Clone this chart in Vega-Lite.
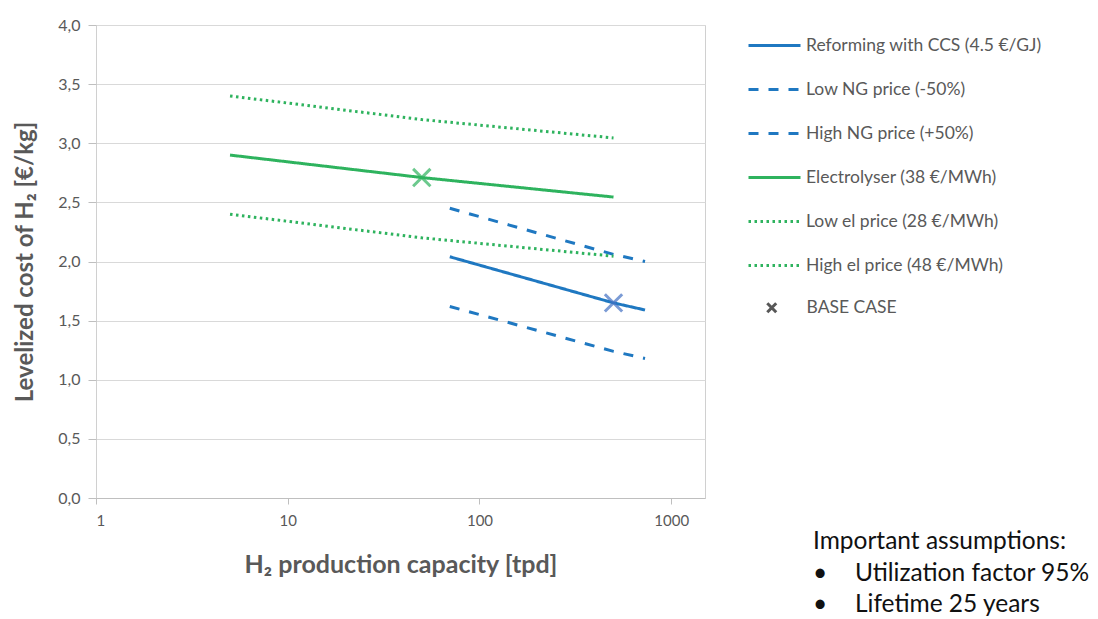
{
  "$schema": "https://vega.github.io/schema/vega-lite/v6.json",
  "autosize": "none",
  "width": 609,
  "height": 473,
  "padding": {"left": 96, "top": 25, "right": 393, "bottom": 121},
  "background": "white",
  "config": {
    "font": "Lato",
    "view": {"stroke": "#d0d0d0", "strokeWidth": 1},
    "axis": {"labelFont": "Lato", "titleFont": "Lato", "labelColor": "#595959", "titleColor": "#595959"},
    "legend": {"labelFont": "Lato", "labelColor": "#595959"}
  },
  "title": {
    "text": ["Important assumptions:", "•\u2003\u2009 Utilization factor 95%", "•\u2003\u2009 Lifetime 25 years"],
    "orient": "bottom",
    "anchor": "start",
    "frame": "group",
    "dx": 717,
    "offset": -47,
    "baseline": "top",
    "font": "Lato",
    "fontSize": 24.5,
    "fontWeight": "normal",
    "color": "#111111",
    "lineHeight": 31.5
  },
  "datasets": {
    "lines": [
      {"x": 70, "y": 2.04, "series": "Reforming with CCS (4.5 €/GJ)"},
      {"x": 500, "y": 1.65, "series": "Reforming with CCS (4.5 €/GJ)"},
      {"x": 730, "y": 1.59, "series": "Reforming with CCS (4.5 €/GJ)"},
      {"x": 70, "y": 1.62, "series": "Low NG price (-50%)"},
      {"x": 500, "y": 1.24, "series": "Low NG price (-50%)"},
      {"x": 730, "y": 1.18, "series": "Low NG price (-50%)"},
      {"x": 70, "y": 2.45, "series": "High NG price (+50%)"},
      {"x": 500, "y": 2.06, "series": "High NG price (+50%)"},
      {"x": 730, "y": 2.0, "series": "High NG price (+50%)"},
      {"x": 5, "y": 2.9, "series": "Electrolyser (38 €/MWh)"},
      {"x": 50, "y": 2.71, "series": "Electrolyser (38 €/MWh)"},
      {"x": 500, "y": 2.545, "series": "Electrolyser (38 €/MWh)"},
      {"x": 5, "y": 2.4, "series": "Low el price (28 €/MWh)"},
      {"x": 50, "y": 2.2, "series": "Low el price (28 €/MWh)"},
      {"x": 500, "y": 2.045, "series": "Low el price (28 €/MWh)"},
      {"x": 5, "y": 3.4, "series": "High el price (48 €/MWh)"},
      {"x": 50, "y": 3.2, "series": "High el price (48 €/MWh)"},
      {"x": 500, "y": 3.045, "series": "High el price (48 €/MWh)"}
    ],
    "base": [
      {"x": 50, "y": 2.71, "tech": "Electrolyser", "marker": "BASE CASE"},
      {"x": 500, "y": 1.65, "tech": "Reforming", "marker": "BASE CASE"}
    ]
  },
  "layer": [
    {
      "data": {"name": "lines"},
      "mark": {"type": "line", "strokeWidth": 3, "strokeCap": "butt"},
      "encoding": {
        "x": {
          "field": "x", "type": "quantitative",
          "scale": {"type": "log", "domain": [1, 1500], "nice": false},
          "axis": {
            "title": "H₂ production capacity [tpd]",
            "values": [1, 10, 100, 1000], "format": "d",
            "grid": false, "domain": true, "domainColor": "#bfbfbf",
            "ticks": true, "tickSize": 6, "tickColor": "#bfbfbf",
            "labelFontSize": 15, "labelPadding": 9,
            "titleFontSize": 25, "titleFontWeight": "bold", "titlePadding": 24
          }
        },
        "y": {
          "field": "y", "type": "quantitative",
          "scale": {"domain": [0, 4], "nice": false},
          "axis": {
            "title": "Levelized cost of H₂ [€/kg]",
            "values": [0, 0.5, 1, 1.5, 2, 2.5, 3, 3.5, 4],
            "labelExpr": "replace(format(datum.value, '.1f'), '.', ',')",
            "grid": true, "gridColor": "#d9d9d9", "domain": false,
            "ticks": true, "tickSize": 8, "tickColor": "#bfbfbf",
            "labelFontSize": 16, "labelPadding": 8,
            "titleFontSize": 24, "titleFontWeight": "bold", "titlePadding": 20
          }
        },
        "color": {
          "field": "series", "type": "nominal",
          "scale": {
            "domain": ["Reforming with CCS (4.5 €/GJ)", "Low NG price (-50%)", "High NG price (+50%)", "Electrolyser (38 €/MWh)", "Low el price (28 €/MWh)", "High el price (48 €/MWh)"],
            "range": ["#1F78C1", "#1F78C1", "#1F78C1", "#2EB35E", "#2EB35E", "#2EB35E"]
          },
          "legend": {
            "title": null, "orient": "none", "legendX": 651, "legendY": -7,
            "symbolType": "stroke", "symbolSize": 2704, "symbolStrokeWidth": 3,
            "labelFontSize": 17.5, "labelOffset": 4, "rowPadding": 8, "padding": 0,
            "labelLimit": 300
          }
        },
        "strokeDash": {
          "field": "series", "type": "nominal",
          "scale": {
            "domain": ["Reforming with CCS (4.5 €/GJ)", "Low NG price (-50%)", "High NG price (+50%)", "Electrolyser (38 €/MWh)", "Low el price (28 €/MWh)", "High el price (48 €/MWh)"],
            "range": [[1, 0], [10, 10], [10, 10], [1, 0], [2.5, 3.5], [2.5, 3.5]]
          },
          "legend": {
            "title": null, "orient": "none", "legendX": 651, "legendY": -7,
            "symbolType": "stroke", "symbolSize": 2704, "symbolStrokeWidth": 3,
            "labelFontSize": 17.5, "labelOffset": 4, "rowPadding": 8, "padding": 0,
            "labelLimit": 300
          }
        }
      }
    },
    {
      "data": {"name": "base"},
      "mark": {"type": "point", "filled": false, "strokeWidth": 3, "size": 300},
      "encoding": {
        "x": {"field": "x", "type": "quantitative"},
        "y": {"field": "y", "type": "quantitative"},
        "shape": {
          "field": "marker", "type": "nominal",
          "scale": {"domain": ["BASE CASE"], "range": ["M-1,-1L1,1M-1,1L1,-1"]},
          "legend": {
            "title": null, "orient": "none", "legendX": 667, "legendY": 274,
            "symbolSize": 80, "symbolStrokeWidth": 3, "symbolStrokeColor": "#111111", "symbolFillColor": "transparent",
            "labelFontSize": 17.5, "labelOffset": 26, "padding": 0
          }
        },
        "stroke": {
          "condition": {"test": "datum.tech === 'Electrolyser'", "value": "#2EB35E"},
          "value": "#4472C4"
        }
      }
    }
  ]
}
